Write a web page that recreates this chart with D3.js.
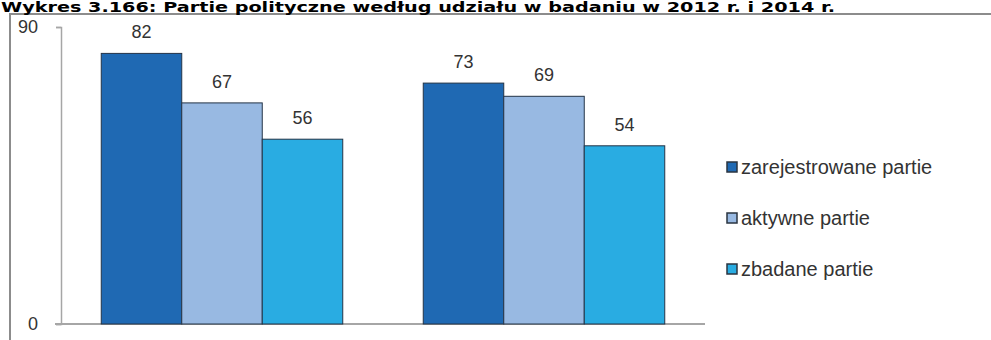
<!DOCTYPE html>
<html><head><meta charset="utf-8">
<script src="https://cdn.jsdelivr.net/npm/d3@7"></script>
<style>body{margin:0;background:#fff;}svg{display:block;}</style>
</head><body>
<svg id="c" width="991" height="340"></svg>
<script>
const title = "Wykres 3.166: Partie polityczne według udziału w badaniu w 2012 r. i 2014 r.";
const groups = ["2012", "2014"];
const seriesNames = ["zarejestrowane partie", "aktywne partie", "zbadane partie"];
const zarejestrowane = [82, 73];
const aktywne = [67, 69];
const zbadane = [56, 54];
const yTicks = [0, 90];
const colors = ["#1f69b3", "#98b9e2", "#29ace2"];

const seriesValues = [zarejestrowane, aktywne, zbadane];
const svg = d3.select("#c");
const font = "'Liberation Sans', Arial, sans-serif";

// frame
svg.append("rect").attr("x", 10).attr("y", 14).attr("width", 990).attr("height", 340)
  .attr("fill", "#fff").attr("stroke", "#8c8c8c").attr("stroke-width", 2);

// title
svg.append("text").attr("x", 1).attr("y", 11.5).text(title)
  .attr("font-family", "'DejaVu Sans', Verdana, sans-serif").attr("font-weight", "bold")
  .attr("font-size", 14).attr("fill", "#000").attr("textLength", 834).attr("lengthAdjust", "spacingAndGlyphs");

const x0 = d3.scaleBand().domain(groups).range([61, 705]).paddingInner(0.25).paddingOuter(0.125);
const x1 = d3.scaleBand().domain(seriesNames).range([0, x0.bandwidth()]);
const y = d3.scaleLinear().domain([0, 90]).range([324, 27]);

// axes
const yAxis = svg.append("g").attr("transform", "translate(61,0)")
  .call(d3.axisLeft(y).tickValues(yTicks).tickSize(5).tickPadding(18));
yAxis.select(".domain").attr("stroke", "#a6a6a6").attr("stroke-width", 1.5);
yAxis.selectAll(".tick line").attr("stroke", "#a6a6a6").attr("stroke-width", 1.5);
yAxis.selectAll(".tick text").attr("font-family", font).attr("font-size", 18).attr("fill", "#333");

svg.append("line").attr("x1", 55).attr("x2", 705).attr("y1", y(0)).attr("y2", y(0))
  .attr("stroke", "#a6a6a6").attr("stroke-width", 2);

// bars
seriesNames.forEach((s, si) => {
  const g = svg.append("g");
  g.selectAll("rect").data(groups).join("rect")
    .attr("x", d => x0(d) + x1(s))
    .attr("y", (d, i) => y(seriesValues[si][i]))
    .attr("width", x1.bandwidth())
    .attr("height", (d, i) => y(0) - y(seriesValues[si][i]))
    .attr("fill", colors[si]).attr("stroke", "#243447").attr("stroke-width", 1);
  g.selectAll("text").data(groups).join("text")
    .attr("x", d => x0(d) + x1(s) + x1.bandwidth() / 2)
    .attr("y", (d, i) => y(seriesValues[si][i]) - 15)
    .attr("text-anchor", "middle").attr("font-family", font).attr("font-size", 18).attr("fill", "#333")
    .text((d, i) => seriesValues[si][i]);
});

// legend
const leg = svg.append("g");
seriesNames.forEach((s, i) => {
  const cy = 167 + i * 51;
  leg.append("rect").attr("x", 727).attr("y", cy - 5).attr("width", 10).attr("height", 10)
    .attr("fill", colors[i]).attr("stroke", "#2a3440").attr("stroke-width", 1.5);
  leg.append("text").attr("x", 741).attr("y", cy + 7).text(s)
    .attr("font-family", font).attr("font-size", 20).attr("fill", "#333");
});
</script>
</body></html>
